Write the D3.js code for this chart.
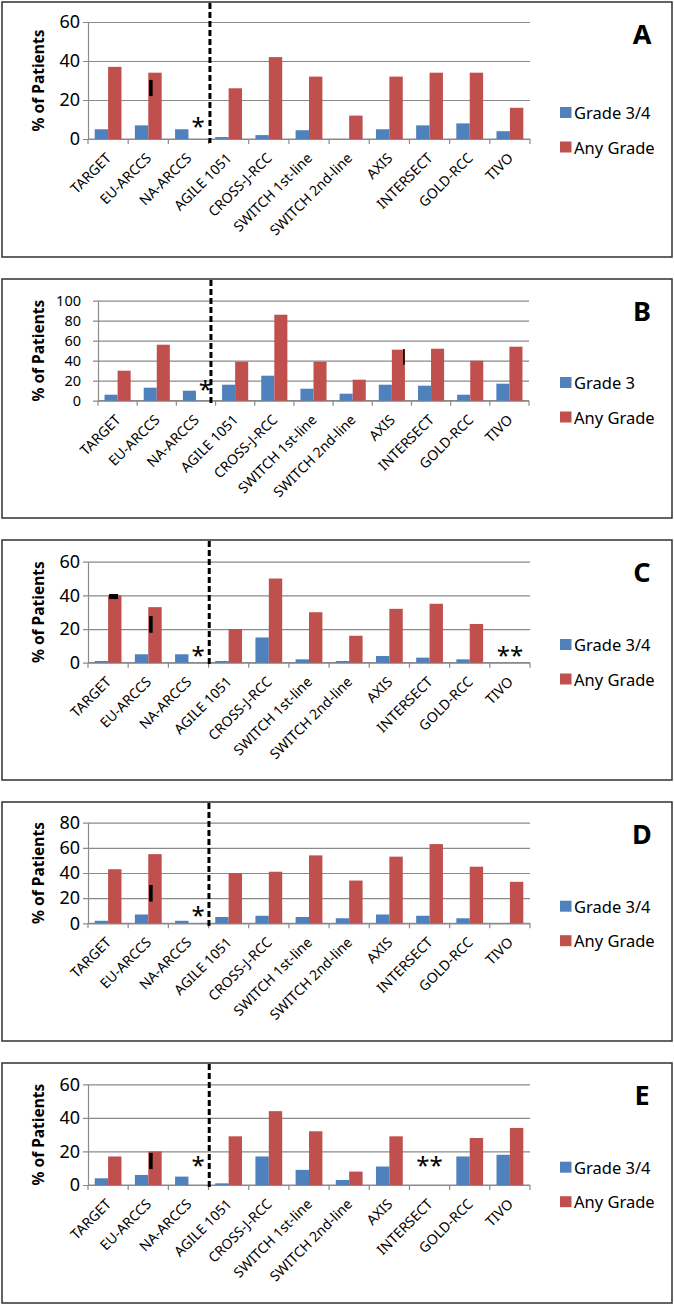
<!DOCTYPE html>
<html><head><meta charset="utf-8">
<script src="https://cdn.jsdelivr.net/npm/d3@7"></script>
<style>body{margin:0;background:#fff}svg{display:block}text{font-family:"Noto Sans",sans-serif}</style>
</head><body>
<script>
// ---------- DATA ----------
const categories = ["TARGET","EU-ARCCS","NA-ARCCS","AGILE 1051","CROSS-J-RCC","SWITCH 1st-line","SWITCH 2nd-line","AXIS","INTERSECT","GOLD-RCC","TIVO"];
const panelLetters = ["A","B","C","D","E"];
const severeLabels = ["Grade 3/4","Grade 3","Grade 3/4","Grade 3/4","Grade 3/4"];
const anyLabel = "Any Grade";
const yTicksA = [0,20,40,60];
const yTicksB = [0,20,40,60,80,100];
const yTicksC = [0,20,40,60];
const yTicksD = [0,20,40,60,80];
const yTicksE = [0,20,40,60];

const severeA = [5,7,5,1,2,4.5,null,5,7,8,4];
const anyA    = [37,34,null,26,42,32,12,32,34,34,16];
const severeB = [6,13,10,16,25,12,7,16,15,6,17];
const anyB    = [30,56,null,39,86,39,21,51,52,40,54];
const severeC = [1,5,5,1,15,2,1,4,3,2,null];
const anyC    = [40,33,null,20,50,30,16,32,35,23,null];
const severeD = [2,7,2,5,6,5,4,7,6,4,null];
const anyD    = [43,55,null,40,41,54,34,53,63,45,33];
const severeE = [4,6,5,1,17,9,3,11,null,17,18];
const anyE    = [17,20,null,29,44,32,8,29,null,28,34];

// annotations: [category, text, value at glyph centre]
const notesA = [["NA-ARCCS","*",8]];
const notesB = [["NA-ARCCS","*",15]];
const notesC = [["NA-ARCCS","*",6.5],["TIVO","**",6.5]];
const notesD = [["NA-ARCCS","*",9]];
const notesE = [["NA-ARCCS","*",14],["INTERSECT","**",14]];
// range marks: [category, low, high, kind]
const rangesA = [["EU-ARCCS",22,30.3,"v"]];
const rangesB = [["AXIS",36,51.7,"thin"]];
const rangesC = [["TARGET",37.8,40.8,"h"],["EU-ARCCS",17.8,27.7,"v"]];
const rangesD = [["EU-ARCCS",17.3,30.5,"v"]];
const rangesE = [["EU-ARCCS",9.5,19.1,"v"]];

const severe = [severeA,severeB,severeC,severeD,severeE];
const anyG = [anyA,anyB,anyC,anyD,anyE];
const yTicks = [yTicksA,yTicksB,yTicksC,yTicksD,yTicksE];
const notes = [notesA,notesB,notesC,notesD,notesE];
const ranges = [rangesA,rangesB,rangesC,rangesD,rangesE];

// ---------- LAYOUT ----------
const layout = [
  {top:2,   bottom:257,  pT:22,    pB:139,   left:88, right:530, tickPad:8,  tickFs:18,   legTop:107,   divShift:1.4},
  {top:279, bottom:518,  pT:300.7, pB:400.7, left:98, right:529, tickPad:17, tickFs:14.5, legTop:377,   divShift:-4.6},
  {top:540, bottom:780,  pT:561.7, pB:662.7, left:88, right:530, tickPad:8,  tickFs:18,   legTop:639,   divShift:0.7},
  {top:802, bottom:1041, pT:822.7, pB:923.3, left:88, right:530, tickPad:8,  tickFs:18,   legTop:900.7, divShift:0.4},
  {top:1063,bottom:1303, pT:1084.3,pB:1185,  left:88, right:530, tickPad:8,  tickFs:18,   legTop:1161.7,divShift:0.7}
];
const BLUE = "#4F81BD", RED = "#C0504D", GRID = "#8a8a8a";

const svg = d3.select("body").append("svg").attr("width",674).attr("height",1305);

layout.forEach((p,i)=>{
  const g = svg.append("g");
  g.append("rect").attr("x",2).attr("y",p.top).attr("width",670).attr("height",p.bottom-p.top)
    .attr("fill","#fff").attr("stroke","#3c3c3c").attr("stroke-width",1.6);

  const x = d3.scaleBand().domain(categories).range([p.left,p.right]);
  const xs = d3.scaleBand().domain(["sev","any"]).range([0,x.bandwidth()]).paddingOuter(0.5);
  const y = d3.scaleLinear().domain([0,d3.max(yTicks[i])]).range([p.pB,p.pT]);

  // y axis + gridlines
  const ya = g.append("g").attr("transform",`translate(${p.left},0)`)
    .call(d3.axisLeft(y).tickValues(yTicks[i]).tickSizeInner(-(p.right-p.left)).tickSizeOuter(0).tickPadding(p.tickPad));
  ya.selectAll("line").attr("x1",-5).attr("stroke",GRID).attr("stroke-width",1.2);
  ya.select(".domain").attr("stroke",GRID).attr("stroke-width",1.2);
  ya.selectAll("text").attr("font-size",p.tickFs).attr("fill","#000").attr("font-family","Noto Sans");

  // x axis line + boundary ticks
  g.append("line").attr("x1",p.left).attr("x2",p.right).attr("y1",y(0)).attr("y2",y(0))
    .attr("stroke",GRID).attr("stroke-width",1.2);
  const bounds = categories.map(c=>x(c)).concat([x.range()[1]]);
  g.append("g").selectAll("line").data(bounds).join("line")
    .attr("x1",d=>d).attr("x2",d=>d).attr("y1",p.pB).attr("y2",p.pB+5)
    .attr("stroke",GRID).attr("stroke-width",1.2);
  // rotated category labels
  g.append("g").selectAll("text").data(categories).join("text")
    .attr("transform",c=>`translate(${x(c)+x.bandwidth()/2+4},${p.pB+20}) rotate(-45)`)
    .attr("text-anchor","end").attr("font-size",14).attr("fill","#000").text(c=>c);

  // bars
  const rows = categories.map((c,k)=>({c,sev:severe[i][k],any:anyG[i][k]}));
  [["sev",BLUE],["any",RED]].forEach(([key,col])=>{
    g.append("g").selectAll("rect").data(rows.filter(r=>r[key]!=null)).join("rect")
      .attr("x",r=>x(r.c)+xs(key)).attr("width",xs.bandwidth())
      .attr("y",r=>y(r[key])).attr("height",r=>y(0)-y(r[key])).attr("fill",col);
  });

  // range marks
  ranges[i].forEach(([c,lo,hi,kind])=>{
    const redL = x(c)+xs("any");
    let rx, rw;
    if(kind==="v"){rx=redL+0.8; rw=3.6;}
    else if(kind==="thin"){rx=redL+xs.bandwidth()-1.8; rw=1.6;}
    else {rx=redL+1; rw=9;}
    g.append("rect").attr("x",rx).attr("width",rw).attr("y",y(hi)).attr("height",y(lo)-y(hi)).attr("fill","#000");
  });

  // divider
  const dx = x(categories[3]) + p.divShift;
  g.append("line").attr("x1",dx).attr("x2",dx).attr("y1",p.top+1).attr("y2",p.pB+4)
    .attr("stroke","#000").attr("stroke-width",3).attr("stroke-dasharray","6,3");

  // notes (asterisks)
  notes[i].forEach(([c,t,v])=>{
    const cx = t==="*" ? x(c)+xs("any")+xs.bandwidth()/2+3 : x(c)+x.bandwidth()/2;
    g.append("text").attr("x",cx).attr("y",y(v)+12).attr("text-anchor","middle")
      .attr("font-size",24).attr("fill","#000").text(t);
  });

  // legend
  [[severeLabels[i],BLUE],[anyLabel,RED]].forEach(([lab,col],k)=>{
    const ty = p.legTop + k*34.5;
    g.append("rect").attr("x",560).attr("y",ty).attr("width",11.5).attr("height",11).attr("fill",col);
    g.append("text").attr("x",574).attr("y",ty+12).attr("font-size",16.5).attr("fill","#000").text(lab);
  });

  // panel letter
  g.append("text").attr("x",642).attr("y",p.top+42).attr("text-anchor","middle")
    .attr("font-size",27).attr("font-weight","bold").attr("fill","#000").text(panelLetters[i]);

  // y label
  g.append("text").attr("transform",`translate(44,${(p.pT+p.pB)/2}) rotate(-90)`)
    .attr("text-anchor","middle").attr("font-size",15.5).attr("font-weight","bold").attr("fill","#000")
    .text("% of Patients");
});
</script>
</body></html>
